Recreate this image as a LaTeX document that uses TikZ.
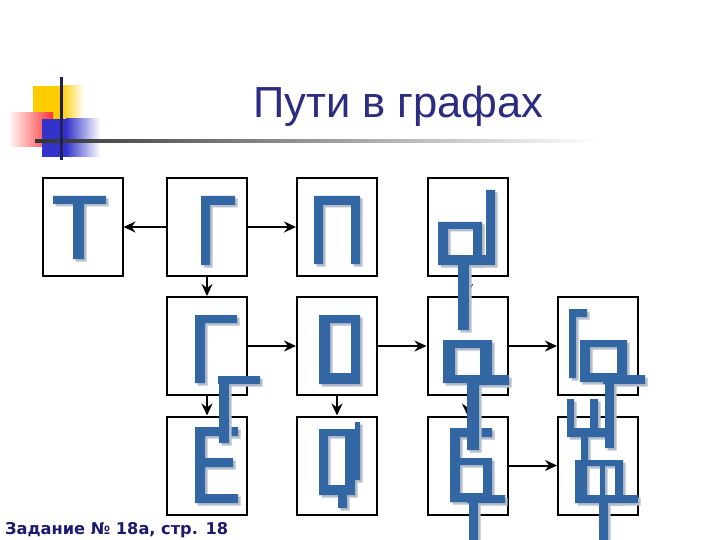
\documentclass[tikz,border=0pt]{standalone}
\usepackage{fontspec}
\usepackage{tikz}
\usetikzlibrary{arrows.meta}
\newfontfamily\titlefont{Liberation Sans}
\newfontfamily\notefont{DejaVu Sans}
\definecolor{barblue}{RGB}{51,103,163}
\definecolor{barshade}{RGB}{184,191,204}
\definecolor{titlenavy}{RGB}{44,44,128}
\definecolor{notenavy}{RGB}{27,27,110}
\definecolor{cornergold}{RGB}{255,204,0}
\definecolor{cornerred}{RGB}{255,51,51}
\definecolor{cornerblue}{RGB}{51,51,204}
\tikzset{
    cell/.style={draw=black, line width=2pt, fill=white, minimum width=80pt, minimum height=98pt, inner sep=0pt},
    link/.style={line width=2pt, -{Stealth[length=12pt,width=11pt,inset=4pt]}}
}
% one letter piece: shadow first, then the blue bars
\newcommand{\glyph}[2][]{%
    \fill[barshade, shift={(2.5,2.5)}, #1] #2;
    \fill[barblue, #1] #2;}

\begin{document}
\begin{tikzpicture}[x=1pt, y=-1pt]
    \useasboundingbox (0,0) rectangle (720,540);
    \fill[white] (0,0) rectangle (720,540);

    % corner ornament
    \fill[cornergold] (33,86) rectangle (61,120);
    \shade[left color=cornergold, right color=white] (61,86) rectangle (84,120);
    \shade[left color=white, right color=cornerred] (8,113) rectangle (53,147);
    \fill[cornerblue] (42,119) rectangle (66,157);
    \shade[left color=cornerblue, right color=white] (66,119) rectangle (100,157);
    \shade[left color=black!80, right color=white] (35,139.5) rectangle (600,142.5);
    \draw[titlenavy!70!black, line width=3pt] (61,77) -- (61,160);

    % title and note
    \node[anchor=base west, inner sep=0pt, text=titlenavy, font=\titlefont\fontsize{43.5}{44}\selectfont]
        (title) at (253,118) {Пути в графах};
    \node[anchor=base west, inner sep=0pt, text=notenavy, font=\notefont\bfseries\fontsize{16.2}{17}\selectfont]
        (note) at (5,534) {Задание № 18а, стр. 18};

    % boxes
    \node[cell] (boxT)  at (82.5,227) {};
    \node[cell] (boxGa) at (207,227) {};
    \node[cell] (boxP)  at (337,227) {};
    \node[cell] (boxAl) at (467.5,227) {};
    \node[cell] (boxGb) at (207,346) {};
    \node[cell] (boxO)  at (337,346) {};
    \node[cell] (boxQa) at (467.5,346) {};
    \node[cell] (boxQb) at (598,346) {};
    \node[cell] (boxE)  at (207,465.5) {};
    \node[cell] (boxF)  at (337,465.5) {};
    \node[cell] (boxB)  at (467.5,465.5) {};
    \node[cell] (boxQc) at (598,465.5) {};

    % arrows
    \draw[link] (boxGa) -- (boxT);
    \draw[link] (boxGa) -- (boxP);
    \draw[link] (boxGa) -- (boxGb);
    \draw[link] (boxAl) -- (boxQa);
    \draw[link] (boxGb) -- (boxO);
    \draw[link] (boxO) -- (boxQa);
    \draw[link] (boxQa) -- (boxQb);
    \draw[link] (boxGb) -- (boxE);
    \draw[link] (boxO) -- (boxF);
    \draw[link] (boxQa) -- (boxB);
    \draw[link] (boxB) -- (boxQc);

    % row 1 letters
    \glyph{(53,196) rectangle (106,204) (73,204) rectangle (84,259)}
    \glyph{(201,196) rectangle (235,205) (201,196) rectangle (210,265)}
    \glyph{(314,196) rectangle (360,205) (314,196) rectangle (323,264) (351,196) rectangle (360,264)}
    \glyph[even odd rule]{(438,222) rectangle (482,265) (448,229) rectangle (473,255)}
    \glyph{(486,190) rectangle (495,263) (458,255) rectangle (495,265) (458,255) rectangle (469,330)}

    % row 2 letters
    \glyph{(195,315) rectangle (237,323) (195,315) rectangle (205,383)}
    \glyph[even odd rule]{(319,315) rectangle (360,384) (330,323) rectangle (351,373)}
    \glyph[even odd rule]{(443,340) rectangle (492,383) (455,348) rectangle (480,375)}
    \glyph{(569,309) rectangle (587,317) (569,309) rectangle (576,378)}
    \glyph[even odd rule]{(580,340) rectangle (627,382) (590,347) rectangle (617,373)}

    % row 3 letters
    \glyph{(195,427) rectangle (205,503) (195,427) rectangle (238,436) (195,458) rectangle (233,467) (195,494) rectangle (238,503)}
    \glyph{(218,376) rectangle (260,384) (219,376) rectangle (229,443)}
    \glyph[even odd rule]{(319,429) rectangle (355,495) (328,436) rectangle (345,485)}
    \glyph{(355,422) rectangle (360,480) (338,495) rectangle (347,508)}
    \glyph{(450,428) rectangle (492,437) (450,428) rectangle (460,502) (450,458) rectangle (492,465) (483,458) rectangle (492,502) (450,493) rectangle (492,502)}
    \glyph{(467,375) rectangle (509,385) (467,375) rectangle (479,450)}
    \glyph{(467,495) rectangle (505,503) (469,495) rectangle (478,540)}
    \glyph{(567,399) rectangle (574,437) (590,399) rectangle (598,437) (567,428) rectangle (608,437) (581,437) rectangle (588,462)}
    \glyph{(603,375) rectangle (645,384) (605,375) rectangle (614,448)}
    \glyph[even odd rule]{(575,460) rectangle (623,503) (587,466) rectangle (615,495)}
    \glyph{(600,466) rectangle (605,495) (598,495) rectangle (638,503) (599,495) rectangle (608,540)}
\end{tikzpicture}
\end{document}
